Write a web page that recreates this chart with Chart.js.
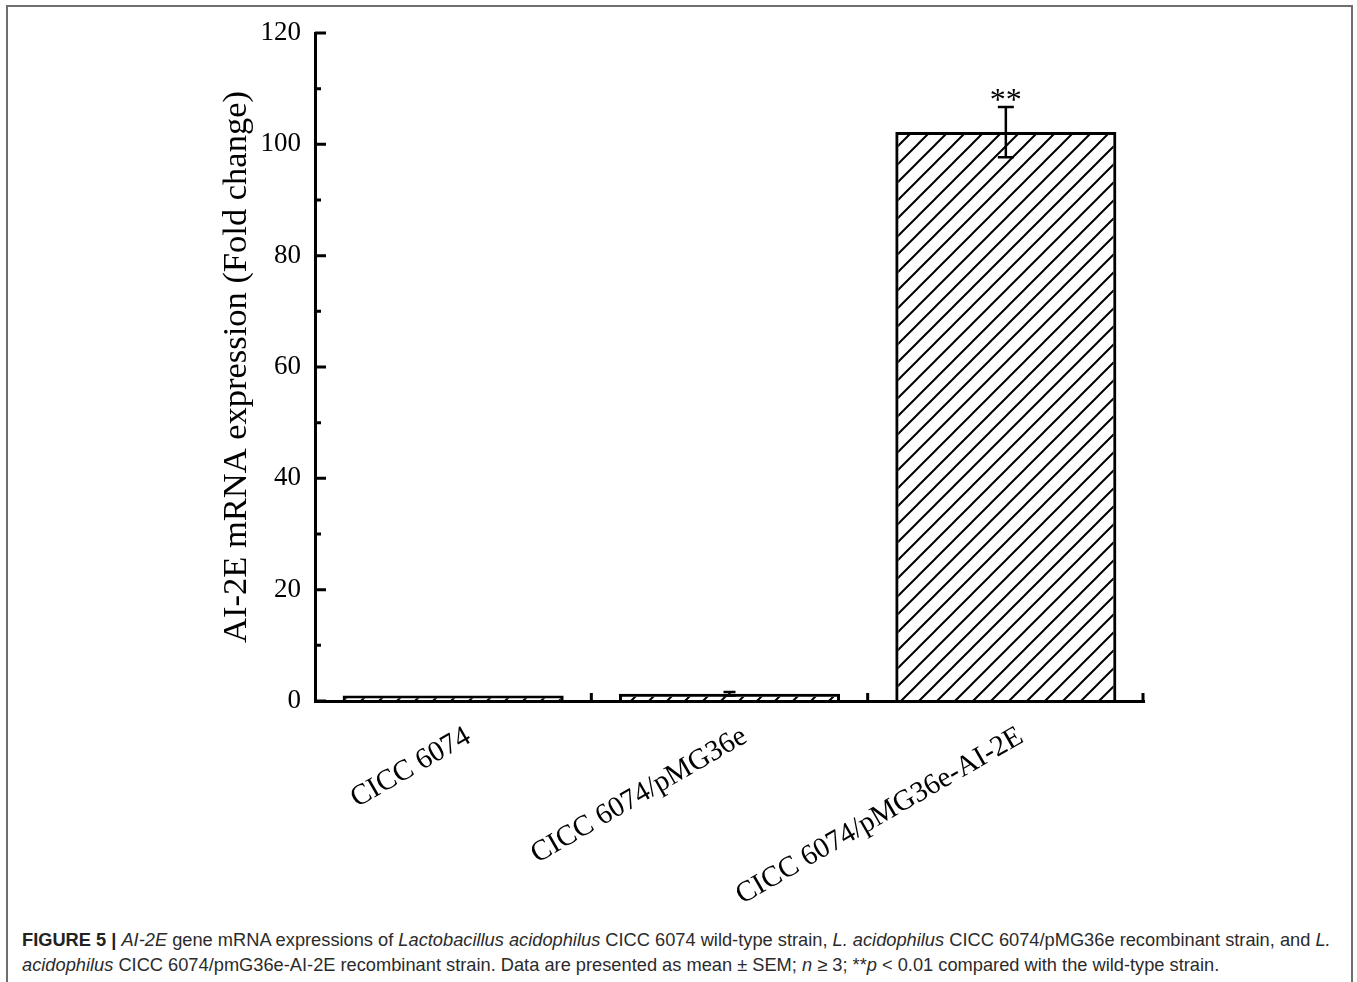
<!DOCTYPE html>
<html>
<head>
<meta charset="utf-8">
<script src="https://cdn.jsdelivr.net/npm/chart.js@4.4.0/dist/chart.umd.min.js"></script>
<style>
  html, body { margin: 0; padding: 0; background: #fff; }
  #frame {
    position: absolute; left: 6px; top: 5px; width: 1343px; height: 990px;
    border-top: 2px solid #6e6e6e; border-left: 2px solid #6e6e6e; border-right: 2px solid #6e6e6e;
  }
  #wrap { position: absolute; left: 0; top: 0; width: 1357px; height: 915px; }
  #caption {
    position: absolute; left: 22px; top: 927px; width: 1325px; white-space: nowrap;
    font-family: "Liberation Sans", Arial, sans-serif; font-size: 18.25px; line-height: 25px; color: #2b2b2b;
  }
  #caption b { color: #222; }
</style>
</head>
<body>
<div id="frame"></div>
<div id="wrap"><canvas id="c" width="1357" height="915"></canvas></div>
<div id="caption"><b>FIGURE 5 |</b> <i>AI-2E</i> gene mRNA expressions of <i>Lactobacillus acidophilus</i> CICC 6074 wild-type strain, <i>L. acidophilus</i> CICC 6074/pMG36e recombinant strain, and <i>L.</i><br><i>acidophilus</i> CICC 6074/pmG36e-AI-2E recombinant strain. Data are presented as mean &plusmn; SEM; <i>n</i> &ge; 3; **<i>p</i> &lt; 0.01 compared with the wild-type strain.</div>
<script>
// data
var categories = ['CICC 6074', 'CICC 6074/pMG36e', 'CICC 6074/pMG36e-AI-2E'];
var foldChange = [1.0, 1.3, 102.2];
var sem = [0, 0.3, 4.5];
var marks = ['', '', '**'];
var yTicks = [0, 20, 40, 60, 80, 100, 120];
var yMinor = [10, 30, 50, 70, 90, 110];

var serif = '"Liberation Serif", "Times New Roman", serif';

// diagonal hatch
function hatch() {
    var s = 18;
    var p = document.createElement('canvas');
    p.width = s; p.height = s;
    var g = p.getContext('2d');
    g.strokeStyle = '#000';
    g.lineWidth = 2;
    g.beginPath();
    g.moveTo(-2, s + 2); g.lineTo(s + 2, -2);
    g.moveTo(-2, 2); g.lineTo(2, -2);
    g.moveTo(s - 2, s + 2); g.lineTo(s + 2, s - 2);
    g.stroke();
    return document.getElementById('c').getContext('2d').createPattern(p, 'repeat');
}

var extras = {
    id: 'extras',
    afterDatasetsDraw: function(chart) {
        var ctx = chart.ctx;
        var x = chart.scales.x, y = chart.scales.y;
        var area = chart.chartArea;
        ctx.save();
        ctx.strokeStyle = '#000';
        ctx.lineWidth = 3;
        ctx.lineCap = 'butt';
        // y ticks, inward
        ctx.beginPath();
        yTicks.forEach(function(v) {
            var py = y.getPixelForValue(v);
            ctx.moveTo(area.left, py); ctx.lineTo(area.left + 11, py);
        });
        yMinor.forEach(function(v) {
            var py = y.getPixelForValue(v);
            ctx.moveTo(area.left, py); ctx.lineTo(area.left + 6, py);
        });
        // x ticks at category boundaries, pointing up
        for (var i = 0; i < categories.length; i++) {
            var bx = i < categories.length - 1 ?
                (x.getPixelForTick(i) + x.getPixelForTick(i + 1)) / 2 : area.right - 1;
            ctx.moveTo(bx, area.bottom); ctx.lineTo(bx, area.bottom - 8);
        }
        ctx.stroke();

        // rotated category labels
        ctx.fillStyle = '#000';
        ctx.font = '29px ' + serif;
        ctx.textAlign = 'right';
        ctx.textBaseline = 'top';
        categories.forEach(function(lab, i) {
            ctx.save();
            ctx.translate(x.getPixelForTick(i) + 8, area.bottom + 21);
            ctx.rotate(-Math.PI / 6);
            ctx.fillText(lab, 0, 0);
            ctx.restore();
        });

        // error bars
        var meta = chart.getDatasetMeta(0);
        ctx.lineWidth = 2.5;
        meta.data.forEach(function(bar, i) {
            if (!sem[i]) return;
            var cx = bar.x;
            var top = y.getPixelForValue(foldChange[i] + sem[i]);
            var bot = y.getPixelForValue(foldChange[i] - sem[i]);
            var cap = sem[i] > 1 ? 8 : 6;
            ctx.beginPath();
            ctx.moveTo(cx, top); ctx.lineTo(cx, bot);
            ctx.moveTo(cx - cap, top); ctx.lineTo(cx + cap, top);
            ctx.moveTo(cx - cap, bot); ctx.lineTo(cx + cap, bot);
            ctx.stroke();
            if (marks[i]) {
                ctx.font = '32px ' + serif;
                ctx.textAlign = 'center';
                ctx.textBaseline = 'alphabetic';
                ctx.fillText(marks[i], cx, top + 3);
            }
        });
        ctx.restore();
    }
};

new Chart(document.getElementById('c'), {
    type: 'bar',
    data: {
        labels: categories,
        datasets: [{
            data: foldChange,
            backgroundColor: hatch(),
            borderColor: '#000',
            borderWidth: 3,
            barPercentage: 0.8,
            categoryPercentage: 1
        }]
    },
    options: {
        responsive: false,
        animation: false,
        layout: { padding: { left: 195, right: 213, top: 33, bottom: 0 } },
        plugins: { legend: { display: false }, tooltip: { enabled: false } },
        scales: {
            x: {
                grid: { display: false, drawTicks: false },
                border: { display: true, color: '#000', width: 3 },
                ticks: { display: false },
                afterFit: function(s) { s.height = 214; }
            },
            y: {
                min: 0, max: 120,
                grid: { display: false, drawTicks: false },
                border: { display: true, color: '#000', width: 3 },
                ticks: {
                    stepSize: 20, color: '#000', padding: 14,
                    font: { family: serif, size: 27 }
                },
                title: {
                    display: true, text: 'AI-2E mRNA expression (Fold change)',
                    color: '#000', font: { family: serif, size: 34.5 },
                    padding: { top: 21, bottom: 0 }
                },
                afterFit: function(s) { s.width = 120; }
            }
        }
    },
    plugins: [extras]
});
</script>
</body>
</html>
